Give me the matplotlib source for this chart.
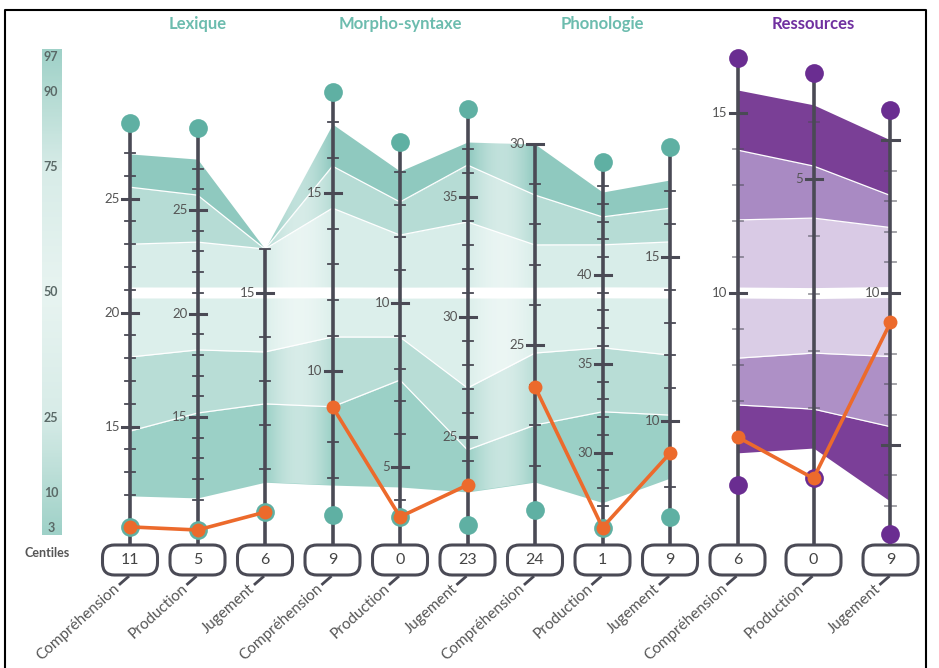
import numpy as np
import matplotlib.pyplot as plt
from matplotlib.patches import FancyBboxPatch, Polygon
from matplotlib.colors import LinearSegmentedColormap

plt.rcParams['font.family'] = ['Lato', 'DejaVu Sans']

groups = ['Lexique', 'Morpho-syntaxe', 'Phonologie', 'Ressources']
subtests = ['Compréhension', 'Production', 'Jugement'] * 4
box_values = [11, 5, 6, 9, 0, 23, 24, 1, 9, 6, 0, 9]

centile_marks = [97, 90, 75, 50, 25, 10, 3]

# raw score range of each axis, and where both ends sit on the centile scale
tick_lo = [12, 11, 11, 7, 4, 24, 22, 27, 8, 6, 1, 3]
tick_hi = [27, 27, 16, 17, 14, 37, 30, 45, 17, 15, 6, 15]
cent_lo = [9.58, 8.62, 14.76, 12.97, 8.62, 16.36, 15.44, 7.38, 11.25, 21.15, 26.94, 7.38]
cent_hi = [77.84, 74.72, 58.68, 84.03, 74.09, 78.64, 79.63, 71.25, 70.17, 85.82, 84.03, 80.43]
tick_labels = [[15, 20, 25], [15, 20, 25], [15], [10, 15], [5, 10], [25, 30, 35],
               [25, 30], [30, 35, 40], [10, 15], [10, 15], [5], [10]]
tick_extra_major = [[], [], [], [], [], [], [], [], [], [], [], [5, 15]]

# norms (raw scores) at each centile
norm_97 = [26.96, 27.46, 16.0, 16.94, 14.02, 37.29, 30.0, 44.66, 17.35, 15.64, 6.30, 15.0]
norm_90 = [25.5, 25.72, 16.0, 15.76, 13.08, 36.33, 28.73, 43.26, 16.49, 13.97, 5.23, 13.18]
norm_75 = [23.0, 23.45, 16.0, 14.58, 12.07, 33.96, 27.49, 41.69, 15.46, 12.03, 4.32, 12.13]
norm_50 = [20.86, 20.99, 15.0, 12.2, 10.3, 31.0, 26.29, 38.99, 13.9, 10.0, 3.0, 10.0]
norm_25 = [18.05, 18.24, 13.66, 10.96, 8.96, 27.04, 24.80, 35.9, 12.01, 8.19, 1.96, 7.9]
norm_10 = [14.8, 15.19, 12.48, 9.0, 7.65, 24.46, 23.01, 32.3, 10.18, 6.89, 0.98, 5.6]
norm_3 = [11.96, 11.09, 10.70, 6.80, 4.39, 22.71, 21.59, 27.19, 8.26, 5.56, 0.30, 3.15]

score = [10.6, 9.54, 10.02, 9.0, 3.48, 23.0, 23.96, 25.79, 9.02, 6.0, -0.23, 9.02]
score_max = [28.3, 28.96, None, 17.84, 14.91, 38.67, None, 46.35, 18.35, 16.53, 6.86, 16.0]
score_min = [10.6, 9.54, 10.02, 5.96, 3.48, 21.33, 20.9, 25.79, 7.07, 4.67, -0.23, 2.07]

# colours
AXC = '#4a4a55'
TXT = '#555555'
ORANGE = '#ec6a2c'
TEAL_DOT = '#5fb0a3'
PURPLE_DOT = '#6a2d91'
teal_bands = ['#8fc9bf', '#b6dcd5', '#d8ede9', '#dcefeb', '#b8ddd6', '#9bd0c6']
purple_bands = ['#7a3f96', '#a98ac3', '#d9cae5', '#dacde6', '#ae90c6', '#7b3f98']

# layout helpers (reference pixel grid -> data units)
PX, PY = 67.5, 5.01


def X(p):
    return (p - 130) / PX


def Y(p):
    return 97 - (p - 57) / PY


def to_c(i, v):
    return cent_lo[i] + (v - tick_lo[i]) * (cent_hi[i] - cent_lo[i]) / (tick_hi[i] - tick_lo[i])


xpos = [float(k) for k in range(10)] + [9 + 76 / PX, 9 + 153 / PX]

fig = plt.figure(figsize=(9.39, 6.68), dpi=100)
ax = fig.add_axes([0, 0, 1, 1])
ax.set_xlim(X(0), X(939))
ax.set_ylim(Y(668), Y(0))
ax.axis('off')

bounds = [norm_97, norm_90, norm_75, norm_50, norm_25, norm_10, norm_3]

# norm bands
for run, cols in [(range(0, 9), teal_bands), (range(9, 12), purple_bands)]:
    idx = list(run)
    xs = [xpos[i] for i in idx]
    for k in range(6):
        top = [to_c(i, bounds[k][i]) for i in idx]
        bot = [to_c(i, bounds[k + 1][i]) for i in idx]
        ax.fill_between(xs, bot, top, color=cols[k], lw=0, zorder=1)
    # soft fade where one group joins the next
    for a in [2, 5]:
        if a + 1 not in idx:
            continue
        xa, xb = xpos[a], xpos[a + 1]
        ta, tb = to_c(a, norm_97[a]), to_c(a + 1, norm_97[a + 1])
        ba, bb = to_c(a, norm_3[a]), to_c(a + 1, norm_3[a + 1])
        poly = Polygon([(xa, ta), (xb, tb), (xb, bb), (xa, ba)], closed=True,
                       transform=ax.transData, fc='none', ec='none')
        ax.add_patch(poly)
        t = np.linspace(0, 1, 200)
        rgba = np.ones((1, 200, 4))
        rgba[0, :, 3] = 0.45 * np.sin(np.pi * t)
        im = ax.imshow(rgba, extent=[xa, xb, min(ba, bb), max(ta, tb)], aspect='auto',
                       interpolation='bilinear', zorder=1.5)
        im.set_clip_path(poly)
    for k in [1, 2, 4, 5]:
        ax.plot(xs, [to_c(i, bounds[k][i]) for i in idx], color='white', lw=0.9, zorder=2)
    ax.plot(xs, [to_c(i, norm_50[i]) for i in idx], color='white', lw=7.9,
            solid_capstyle='butt', zorder=2)

# axes, ticks, boxes and labels
for i in range(12):
    x = xpos[i]
    purple = i >= 9
    top = to_c(i, score_max[i]) if score_max[i] is not None else to_c(i, tick_hi[i])
    ax.plot([x, x], [Y(545), top], color=AXC, lw=2.6, solid_capstyle='butt', zorder=3)
    for v in range(tick_lo[i], tick_hi[i] + 1):
        c = to_c(i, v)
        major = v in tick_labels[i] or v in tick_extra_major[i]
        half = (8 if major else 5) / PX
        ax.plot([x - half, x + half], [c, c], color=AXC, lw=2.2 if major else 1.3,
                alpha=0.55 if (purple and not major) else 1, zorder=3)
        if v in tick_labels[i]:
            ax.text(x - 10 / PX, c, str(v), ha='right', va='center', fontsize=9.5,
                    color=TXT, zorder=3)
    box = FancyBboxPatch((x - 27.5 / PX, Y(575)), 55 / PX, 30 / PY,
                         boxstyle='round,pad=0,rounding_size=%f' % (12 / PX),
                         mutation_aspect=PX / PY, fc='white', ec=AXC, lw=2.2, zorder=4)
    ax.add_patch(box)
    ax.text(x, Y(560), str(box_values[i]), ha='center', va='center', fontsize=11.5,
            color='#444444', zorder=5)
    ax.plot([x - 2 / PX, x - 10 / PX], [Y(577), Y(584)], color=AXC, lw=2, zorder=3)
    ax.text(x - 12 / PX, Y(587), subtests[i], rotation=42, rotation_mode='anchor',
            ha='right', va='center', fontsize=11, color=TXT)

    dot = PURPLE_DOT if purple else TEAL_DOT
    if score_max[i] is not None:
        ax.plot(x, to_c(i, score_max[i]), 'o', ms=13.5, color=dot, mec='none', zorder=5)
    ax.plot(x, to_c(i, score_min[i]), 'o', ms=13.5, color=dot, mec='none', zorder=5)

# patient scores, joined inside each group
for g in range(4):
    idx = [3 * g, 3 * g + 1, 3 * g + 2]
    ax.plot([xpos[i] for i in idx], [to_c(i, score[i]) for i in idx], '-o', color=ORANGE,
            lw=2.6, ms=10, mec='none', zorder=6)

# group titles
for g in range(4):
    ax.text(xpos[3 * g + 1], Y(24), groups[g], ha='center', va='center', fontsize=12,
            fontweight='bold', color='#7030a0' if g == 3 else '#6cbcae')

# centile scale on the left
cmap = LinearSegmentedColormap.from_list('cent', [
    (0.0, '#9fd1c8'), (0.08, '#b2dad2'), (0.25, '#d8ece8'), (0.5, '#e8f4f1'),
    (0.75, '#d8ece8'), (0.92, '#b2dad2'), (1.0, '#9fd1c8')])
grad = np.linspace(0, 1, 200).reshape(-1, 1)
ax.imshow(grad, cmap=cmap, extent=[X(42), X(62), 1.5, 98.5], aspect='auto', zorder=1)
for m in centile_marks:
    ax.text(X(51), m, str(m), ha='center', va='center', fontsize=9, fontweight='bold',
            color='#5a6967', zorder=2)
ax.text(X(47), Y(553), 'Centiles', ha='center', va='center', fontsize=9,
        fontweight='bold', color=TXT)

# frame
ax.plot([X(5), X(5), X(926), X(926)], [Y(700), Y(10), Y(10), Y(700)], color='black',
        lw=1.5, zorder=7)

ax.set_xlim(X(0), X(939))
ax.set_ylim(Y(668), Y(0))
fig.savefig('out.png', dpi=100)
